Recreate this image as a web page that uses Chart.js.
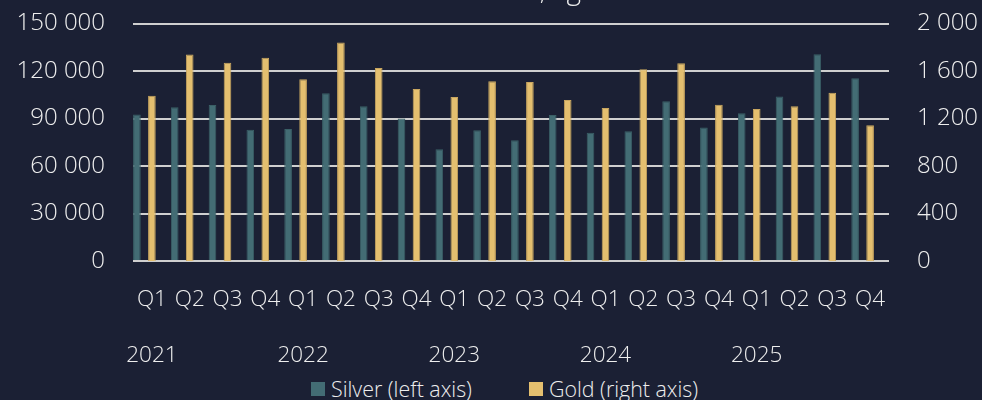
<!DOCTYPE html>
<html>
<head>
<meta charset="utf-8">
<script src="https://cdn.jsdelivr.net/npm/chart.js@4.4.1/dist/chart.umd.min.js"></script>
<style>
    body { margin: 0; background: #1b2034; }
    #wrap { position: relative; width: 982px; height: 400px; overflow: hidden; background: #1b2034; }
    #box { position: absolute; left: 0; top: -26px; width: 982px; height: 398px; }
    #legenda { position: absolute; left: 311px; top: 375px; display: flex; gap: 57px;
               font-family: 'Open Sans', sans-serif; font-weight: 300; font-size: 21.4px; color: #eeeeee; line-height: 28px; }
    #legenda span.item { display: flex; align-items: center; }
    #legenda i { display: inline-block; width: 14px; height: 14px; margin-right: 6px; }
</style>
</head>
<body>
<div id="wrap">
    <div id="box"><canvas id="graficoBarras"></canvas></div>
    <div id="legenda"></div>
</div>
<script>
const anos = ['2021', '2022', '2023', '2024', '2025'];
const trimestres = ['Q1', 'Q2', 'Q3', 'Q4'];
const prata = [92500, 97100, 98600, 83000, 83400, 106000, 97700, 90000, 70600, 82600,
               76300, 92200, 81100, 82000, 100900, 84300, 93300, 104000, 130600, 115400];
const ouro = [1393, 1739, 1671, 1713, 1531, 1840, 1626, 1449, 1382, 1514,
              1508, 1356, 1289, 1615, 1666, 1317, 1281, 1303, 1418, 1143];
const ticksEsq = [0, 30000, 60000, 90000, 120000, 150000];
const ticksDir = [0, 400, 800, 1200, 1600, 2000];

// rótulos: trimestre e, no Q1, o ano duas linhas abaixo
const labels = [];
anos.forEach(a => trimestres.forEach((q, i) => labels.push(i === 0 ? [q, '', a] : q)));

const corTexto = '#eeeeee';
const fonte = 'Open Sans';
const milhar = v => String(v).replace(/\B(?=(\d{3})+(?!\d))/g, ' ');

const grafico = new Chart(document.getElementById('graficoBarras'), {
    type: 'bar',
    data: {
        labels: labels,
        datasets: [{
            label: 'Silver (left axis)',
            data: prata,
            yAxisID: 'y',
            backgroundColor: '#436c74',
            borderColor: '#3a5f66',
            borderWidth: 1
        }, {
            label: 'Gold (right axis)',
            data: ouro,
            yAxisID: 'y1',
            backgroundColor: '#e4bf6f',
            borderColor: '#c9a65f',
            borderWidth: 1
        }, {
            // vaga vazia para deslocar as barras como no original
            label: '',
            data: [],
            yAxisID: 'y'
        }]
    },
    options: {
        responsive: true,
        maintainAspectRatio: false,
        animation: false,
        categoryPercentage: 1.19,
        barPercentage: 0.51,
        layout: { padding: 0 },
        plugins: {
            legend: { display: false },
            tooltip: { enabled: false },
            title: {
                display: true,
                text: 'Production, kg',
                color: corTexto,
                font: { family: fonte, size: 28, weight: 300, lineHeight: 1.2 },
                padding: { top: 0, bottom: 16 }
            }
        },
        scales: {
            x: {
                grid: { display: false, drawTicks: false },
                border: { display: false },
                ticks: {
                    color: corTexto,
                    font: { family: fonte, size: 22.5, weight: 300, lineHeight: 28 / 22.5 },
                    padding: 25,
                    maxRotation: 0,
                    autoSkip: false
                },
                afterFit: s => { s.height = 111; }
            },
            y: {
                position: 'left',
                min: 0,
                max: 150000,
                afterBuildTicks: s => { s.ticks = ticksEsq.map(v => ({ value: v })); },
                grid: { color: '#cfcfcf', lineWidth: 2, drawTicks: false },
                border: { display: false },
                ticks: {
                    color: corTexto,
                    font: { family: fonte, size: 24, weight: 300 },
                    padding: 28,
                    callback: v => milhar(v)
                },
                afterFit: s => { s.width = 133; }
            },
            y1: {
                position: 'right',
                min: 0,
                max: 2000,
                afterBuildTicks: s => { s.ticks = ticksDir.map(v => ({ value: v })); },
                grid: { display: false, drawTicks: false },
                border: { display: false },
                ticks: {
                    color: corTexto,
                    font: { family: fonte, size: 24, weight: 300 },
                    padding: 28,
                    callback: v => milhar(v)
                },
                afterFit: s => { s.width = 93; }
            }
        }
    }
});

// legenda em HTML a partir dos datasets
const legenda = document.getElementById('legenda');
grafico.data.datasets.filter(d => d.label).forEach(d => {
    const item = document.createElement('span');
    item.className = 'item';
    item.innerHTML = '<i style="background:' + d.backgroundColor + '"></i>' + d.label;
    legenda.appendChild(item);
});
</script>
</body>
</html>
